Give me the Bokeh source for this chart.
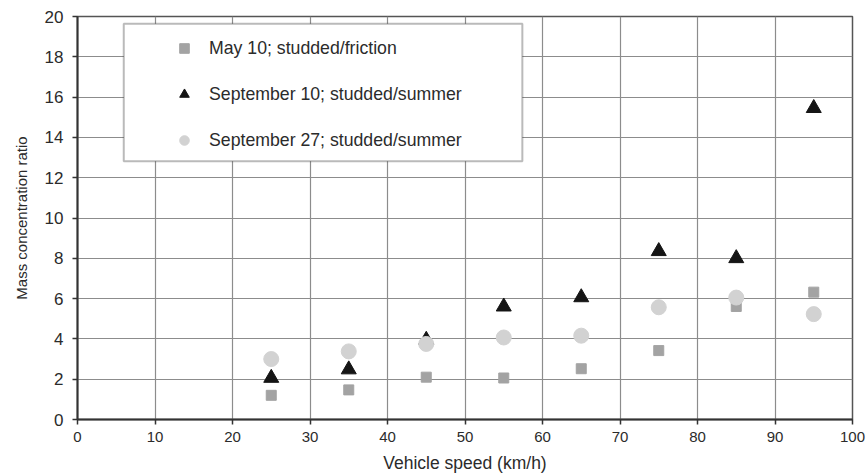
from bokeh.plotting import figure
from bokeh.models import Legend, LegendItem, FixedTicker, BoxAnnotation
from bokeh.embed import file_html
from bokeh.resources import INLINE

# Vehicle speed (km/h)
speed = [25, 35, 45, 55, 65, 75, 85, 95]

# Mass concentration ratios per campaign
may10_studded_friction = [1.2, 1.47, 2.1, 2.06, 2.52, 3.42, 5.61, 6.32]
sep10_studded_summer = [2.06, 2.48, 3.95, 5.6, 6.06, 8.35, 8.0, 15.45]
sep27_studded_summer = [3.0, 3.38, 3.75, 4.07, 4.16, 5.57, 6.05, 5.23]

labels = [
    "May 10; studded/friction",
    "September 10; studded/summer",
    "September 27; studded/summer",
]

x_ticks = [0, 10, 20, 30, 40, 50, 60, 70, 80, 90, 100]
y_ticks = [0, 2, 4, 6, 8, 10, 12, 14, 16, 18, 20]

FONT = "Liberation Sans"
TEXT = "#2b2b2b"

p = figure(
    width=866, height=476,
    x_range=(0, 100), y_range=(0, 20),
    output_backend="svg", toolbar_location=None,
    min_border_left=77, min_border_right=14,
    min_border_top=16, min_border_bottom=57,
)
p.background_fill_color = "white"
p.border_fill_color = "white"
p.outline_line_color = "#555555"
p.outline_line_width = 1.5

for ax, ticks in ((p.xaxis[0], x_ticks), (p.yaxis[0], y_ticks)):
    ax.ticker = FixedTicker(ticks=ticks)
    ax.minor_tick_line_color = None
    ax.axis_line_color = "#333333"
    ax.axis_line_width = 2
    ax.major_tick_line_color = "#333333"
    ax.major_tick_line_width = 1.5
    ax.major_tick_out = 5
    ax.major_tick_in = 0
    ax.major_label_text_font = FONT
    ax.major_label_text_color = TEXT
    ax.axis_label_text_font = FONT
    ax.axis_label_text_font_style = "normal"
    ax.axis_label_text_color = TEXT

p.xaxis.major_label_text_font_size = "15px"
p.yaxis.major_label_text_font_size = "17px"

p.xaxis.axis_label = "Vehicle speed (km/h)"
p.yaxis.axis_label = "Mass concentration ratio"
p.xaxis.axis_label_text_font_size = "17.5px"
p.yaxis.axis_label_text_font_size = "15px"
p.xaxis.major_label_standoff = 7
p.yaxis.major_label_standoff = 9
p.xaxis.axis_label_standoff = 8
p.yaxis.axis_label_standoff = 12

p.xgrid.ticker = FixedTicker(ticks=x_ticks)
p.ygrid.ticker = FixedTicker(ticks=y_ticks)
p.grid.grid_line_color = "#8c8c8c"
p.grid.grid_line_width = 1.2

r_sq = p.scatter(speed, may10_studded_friction, marker="square", size=10,
                 fill_color="#a3a3a3", line_color="#a3a3a3")
r_tri = p.scatter(speed, sep10_studded_summer, marker="triangle", size=15,
                  fill_color="#151515", line_color="#151515")
r_circ = p.scatter(speed, sep27_studded_summer, marker="circle", size=15,
                   fill_color="#d2d2d2", line_color="#d2d2d2")

# Framed white panel behind the legend entries
legend_frame = BoxAnnotation(
    left=5.97, right=57.4, bottom=12.82, top=19.64,
    fill_color="white", fill_alpha=1.0,
    line_color="#1a1a1a", line_width=2,
)
p.add_layout(legend_frame)

legend = Legend(
    items=[
        LegendItem(label=labels[0], renderers=[r_sq]),
        LegendItem(label=labels[1], renderers=[r_tri]),
        LegendItem(label=labels[2], renderers=[r_circ]),
    ],
    location=(82, 267),
    orientation="vertical",
    padding=5,
    spacing=22,
    glyph_width=50,
    glyph_height=24,
    label_height=24,
    label_standoff=0,
    label_text_font=FONT,
    label_text_font_size="17.7px",
    label_text_color=TEXT,
    border_line_color=None,
    background_fill_alpha=0.0,
)
p.add_layout(legend, "center")

open("out.html", "w").write(file_html(p, INLINE))
